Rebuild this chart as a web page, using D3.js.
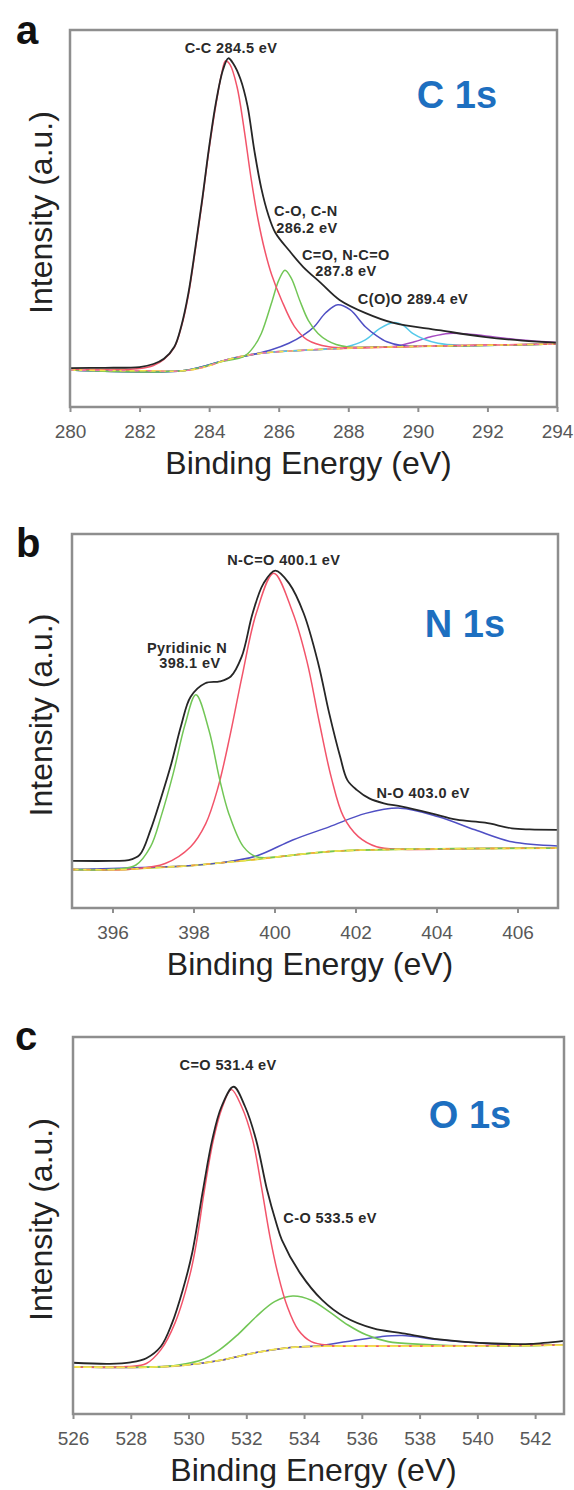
<!DOCTYPE html>
<html><head><meta charset="utf-8">
<script src="https://cdn.jsdelivr.net/npm/d3@7"></script>
<style>body{margin:0;background:#fff}svg{display:block}</style>
</head><body><svg id="chart" width="574" height="1490"></svg>
<script>
// ---------- Panel a : C 1s ----------
const aTicks = [280, 282, 284, 286, 288, 290, 292, 294];
const aEnvelope = [[280,10.3],[281,10.4],[282,10.6],[282.4,11.4],[282.7,12.8],[283.0,16.0],[283.2,21.5],[283.4,30.0],[283.6,42.0],[283.8,55.0],[284.0,69.0],[284.2,81.0],[284.4,89.5],[284.55,92.5],[284.7,91.0],[284.9,87.0],[285.1,80.0],[285.3,68.0],[285.5,58.0],[285.7,51.0],[285.9,46.3],[286.3,41.5],[286.7,37.2],[287.2,33.0],[287.75,28.4],[288.5,24.9],[289.3,22.3],[290.6,20.4],[291.9,18.6],[293.0,17.6],[294,17.1]];
const aCC = [[280,10.0],[282,10.2],[282.4,11.0],[282.7,12.6],[283.0,15.8],[283.2,21.2],[283.4,29.5],[283.6,41.5],[283.8,54.5],[284.0,68.5],[284.2,80.5],[284.35,88.0],[284.47,91.8],[284.6,90.8],[284.8,85.0],[285.0,74.0],[285.2,61.0],[285.4,50.0],[285.6,41.5],[285.8,35.0],[286.08,28.4],[286.45,21.4],[286.81,17.9],[287.44,16.0],[288.5,15.8],[291,16.3],[294,16.7]];
const aCO = [[280,9.8],[283.3,9.7],[284.3,11.9],[285.03,13.6],[285.3,16.2],[285.5,19.5],[285.82,28.4],[286.0,33.6],[286.18,36.3],[286.36,34.2],[286.6,28.4],[286.85,23.0],[287.13,19.5],[287.4,17.6],[287.65,16.6],[287.96,16.0],[289,15.9],[294,16.7]];
const aCdO = [[280,9.8],[283.3,9.7],[284.5,12.5],[285.35,14.1],[285.77,15.1],[286.29,16.9],[286.7,19.0],[287.02,21.3],[287.35,25.0],[287.7,27.1],[288.05,25.8],[288.49,21.3],[288.8,19.0],[289.11,17.3],[289.53,16.3],[290.2,16.1],[294,16.7]];
const aCOO = [[280,9.8],[283.3,9.7],[284.5,12.5],[285.35,14.1],[286.4,14.9],[287.44,15.4],[287.96,16.0],[288.49,17.8],[288.9,20.8],[289.32,22.4],[289.6,21.5],[289.85,19.5],[290.2,17.9],[290.58,16.9],[291.2,16.4],[294,16.7]];
const aSat = [[280,9.8],[283.3,9.7],[284.5,12.5],[285.35,14.1],[286.4,14.9],[287.44,15.4],[288.5,15.8],[289.4,16.2],[289.9,17.3],[290.4,18.7],[290.9,19.5],[291.5,19.3],[292.2,18.6],[293,17.8],[294,17.1]];
const aBackground = [[280,9.8],[282.2,9.6],[283.25,9.6],[283.9,10.7],[284.5,12.5],[285.35,14.1],[286.4,14.9],[287.44,15.4],[289.5,16.0],[291.5,16.3],[294,16.7]];
const aNotes = [["C-C 284.5 eV",284.63,93.9],["C-O, C-N",286.78,50.7],["286.2 eV",286.81,46.2],["C=O, N-C=O",287.93,39.0],["287.8 eV",287.93,34.7],["C(O)O 289.4 eV",289.86,27.3]];

// ---------- Panel b : N 1s ----------
const bTicks = [396, 398, 400, 402, 404, 406];
const bEnvelope = [[395,12.6],[396,12.6],[396.4,12.8],[396.67,14.2],[396.94,20.9],[397.2,29.5],[397.45,38.5],[397.7,49.0],[397.93,56.5],[398.29,60.1],[398.65,60.6],[398.92,61.9],[399.19,67.2],[399.46,78.8],[399.73,86.8],[400.02,90.2],[400.36,86.8],[400.72,78.8],[401.08,65.4],[401.35,52.1],[401.62,40.5],[401.8,34.2],[402.03,31.6],[402.34,29.3],[402.7,28.0],[403.15,27.1],[403.87,25.3],[404.5,23.6],[405.2,22.8],[405.86,21.3],[406.3,21.0],[407,20.9]];
const bPyridinic = [[395,10.3],[396.13,10.4],[396.58,11.5],[396.94,16.4],[397.2,24.5],[397.5,36.0],[397.79,49.0],[398.06,57.0],[398.38,47.6],[398.65,34.2],[398.87,25.3],[399.23,16.4],[399.55,13.7],[400.5,14.2],[401.35,15.1],[403.15,15.7],[407,16.0]];
const bNCO = [[395,10.3],[396.5,10.4],[397.3,11.9],[397.93,16.4],[398.3,22.5],[398.6,32.0],[398.9,46.0],[399.2,62.0],[399.55,78.8],[399.98,89.5],[400.45,79.0],[400.8,66.0],[401.1,50.0],[401.4,35.0],[401.7,24.5],[402.07,19.1],[402.52,16.4],[403.15,15.7],[405,15.9],[407,16.0]];
const bNO = [[395,10.3],[397.75,11.2],[398.6,12.0],[399.55,13.9],[400.45,18.2],[401.35,21.7],[402.25,25.3],[403.1,26.7],[404.05,24.4],[404.95,20.9],[405.86,17.7],[407,16.6]];
const bBackground = [[395,10.3],[396.3,10.3],[396.85,10.7],[397.75,11.2],[398.6,12.0],[399.55,13.0],[400.5,14.2],[401.35,15.1],[402.2,15.5],[403.15,15.7],[405,15.9],[407,16.0]];
const bNotes = [["N-C=O 400.1 eV",400.23,91.7],["Pyridinic N",397.84,68.2],["398.1 eV",397.91,64.2],["N-O 403.0 eV",403.67,29.4]];

// ---------- Panel c : O 1s ----------
const cTicks = [526, 528, 530, 532, 534, 536, 538, 540, 542];
const cEnvelope = [[526,13.6],[527.27,13.3],[528.0,13.7],[528.54,14.8],[529.04,17.9],[529.43,24.1],[529.8,32.9],[530.12,42.5],[530.5,59.4],[530.82,72.7],[531.14,81.5],[531.56,86.8],[531.96,81.5],[532.34,72.7],[532.72,59.4],[533.04,50.6],[533.23,46.2],[533.87,37.3],[534.63,30.2],[535.39,25.8],[536.4,22.7],[537.42,21.4],[538.69,19.8],[540.59,18.7],[541.86,18.6],[543,19.4]];
const cCdO = [[526,12.5],[527.9,12.6],[528.54,13.4],[529.04,17.0],[529.53,24.1],[530.06,37.3],[530.29,46.2],[530.55,59.4],[530.86,72.7],[531.15,81.0],[531.48,86.1],[531.84,81.5],[532.22,72.7],[532.53,60.0],[532.82,47.0],[533.1,37.0],[533.42,28.5],[533.8,22.3],[534.25,19.2],[534.88,18.2],[537,18.0],[543,18.3]];
const cCO = [[526,12.5],[528.5,12.5],[529.17,12.6],[529.8,13.2],[530.44,14.3],[531.07,17.0],[531.7,21.0],[532.34,25.8],[532.98,29.8],[533.61,31.3],[534.25,30.2],[534.88,27.1],[535.52,23.6],[536.15,21.0],[536.91,19.2],[538.05,18.5],[540,18.0],[543,18.3]];
const cExtra = [[526,12.5],[528.5,12.4],[529.8,12.9],[531.07,14.2],[532.34,16.3],[533.6,17.7],[534.5,18.1],[535.5,19.2],[536.66,20.5],[537.4,20.8],[538.69,19.7],[539.96,18.9],[541.2,18.4],[543,18.3]];
const cBackground = [[526,12.5],[528.5,12.4],[529.8,12.9],[531.07,14.2],[532.34,16.3],[533.6,17.7],[534.88,18.0],[537.4,18.0],[540,18.0],[543,18.3]];
const cNotes = [["C=O 531.4 eV",531.37,91.2],["C-O 533.5 eV",534.9,50.7]];

const panelLetters = ["a", "b", "c"];
const panelTitles = ["C 1s", "N 1s", "O 1s"];
const xTitle = "Binding Energy (eV)";
const yTitle = "Intensity (a.u.)";

// ---------- drawing ----------
const svg = d3.select("#chart");
svg.append("rect").attr("width", 574).attr("height", 1490).attr("fill", "#fff");
const FONT = "'Liberation Sans', Arial, Helvetica, sans-serif";
const RED = "#f2546a", GREEN = "#72c656", BLUE = "#4f4fc4", CYAN = "#55c9ea", PURPLE = "#a64cc2", BLACK = "#262626";

const layout = [
  {x0: 70, x1: 557, y0: 30, y1: 407, letterX: 16, letterY: 44, titleX: 457, titleY: 108},
  {x0: 72, x1: 558, y0: 534, y1: 908, letterX: 16, letterY: 557, titleX: 465, titleY: 637},
  {x0: 73, x1: 564, y0: 1037, y1: 1414, letterX: 15, letterY: 1050, titleX: 470, titleY: 1128}
];

const panels = [
  {ticks: aTicks, domain: [280, 294], notes: aNotes,
   series: [[aBackground, "#f6a23e", 1.6, null], [aSat, PURPLE, 1.5], [aCOO, CYAN, 1.5], [aCdO, BLUE, 1.5], [aCO, GREEN, 1.5], [aCC, RED, 1.5],
            [aBackground, "#f3e04c", 1.6, "5 5"], [aBackground, "#f070a8", 1.4, "3 10"], [aEnvelope, BLACK, 1.8]]},
  {ticks: bTicks, domain: [395, 407], notes: bNotes,
   series: [[bBackground, "#b9d63c", 1.8, null], [bNO, BLUE, 1.5], [bNCO, RED, 1.5], [bPyridinic, GREEN, 1.5],
            [bBackground, "#f2e24c", 1.6, "6 6"], [bBackground, "#f4a040", 1.4, "3 12"], [bEnvelope, BLACK, 1.8]]},
  {ticks: cTicks, domain: [526, 543], notes: cNotes,
   series: [[cBackground, "#f6a23e", 1.6, null], [cExtra, BLUE, 1.5], [cCO, GREEN, 1.6], [cCdO, RED, 1.5],
            [cBackground, "#f3e650", 1.8, "7 4"], [cEnvelope, BLACK, 1.8]]}
];

panels.forEach((p, i) => {
  const L = layout[i];
  const x = d3.scaleLinear().domain(p.domain).range([L.x0, L.x1]);
  const y = d3.scaleLinear().domain([0, 100]).range([L.y1, L.y0]);
  const g = svg.append("g");
  const clipId = "clip" + i;
  svg.append("clipPath").attr("id", clipId).append("rect")
    .attr("x", L.x0).attr("y", L.y0).attr("width", L.x1 - L.x0).attr("height", L.y1 - L.y0);

  const line = d3.line().x(d => x(d[0])).y(d => y(d[1])).curve(d3.curveCatmullRom.alpha(0.5));
  const curves = g.append("g").attr("clip-path", `url(#${clipId})`);
  p.series.forEach(s => {
    curves.append("path").attr("d", line(s[0])).attr("fill", "none")
      .attr("stroke", s[1]).attr("stroke-width", s[2])
      .attr("stroke-dasharray", s[3] || null)
      .attr("stroke-linejoin", "round").attr("stroke-linecap", "round");
  });

  // frame
  g.append("rect").attr("x", L.x0).attr("y", L.y0).attr("width", L.x1 - L.x0).attr("height", L.y1 - L.y0)
    .attr("fill", "none").attr("stroke", "#8e8e8e").attr("stroke-width", 2.5);

  // x axis
  const ax = g.append("g").attr("transform", `translate(0,${L.y1})`)
    .call(d3.axisBottom(x).tickValues(p.ticks).tickSize(5).tickPadding(13).tickFormat(d3.format("d")));
  ax.select(".domain").remove();
  ax.selectAll(".tick line").attr("stroke", "#8e8e8e").attr("stroke-width", 2);
  ax.selectAll(".tick text").attr("fill", "#585858").style("font-family", FONT).style("font-size", "19px");

  // annotations
  p.notes.forEach(n => {
    g.append("text").attr("x", x(n[1])).attr("y", y(n[2])).attr("text-anchor", "middle")
      .style("font-family", FONT).style("font-size", "14.5px").style("font-weight", "bold")
      .style("letter-spacing", "0.4px").attr("fill", "#2a2a2a").text(n[0]);
  });

  // titles
  g.append("text").attr("x", L.titleX).attr("y", L.titleY).attr("text-anchor", "middle")
    .style("font-family", FONT).style("font-size", "38px").style("font-weight", "bold")
    .attr("fill", "#1d6fc0").text(panelTitles[i]);
  g.append("text").attr("x", L.letterX).attr("y", L.letterY)
    .style("font-family", FONT).style("font-size", "40px").style("font-weight", "bold")
    .attr("fill", "#111").text(panelLetters[i]);
  g.append("text").attr("x", (L.x0 + L.x1) / 2 - 5).attr("y", L.y1 + 67).attr("text-anchor", "middle")
    .style("font-family", FONT).style("font-size", "32px").attr("fill", "#222").text(xTitle);
  g.append("text").attr("transform", `translate(52,${(L.y0 + L.y1) / 2 - 6}) rotate(-90)`)
    .attr("text-anchor", "middle")
    .style("font-family", FONT).style("font-size", "32px").attr("fill", "#222").text(yTitle);
});
</script></body></html>
